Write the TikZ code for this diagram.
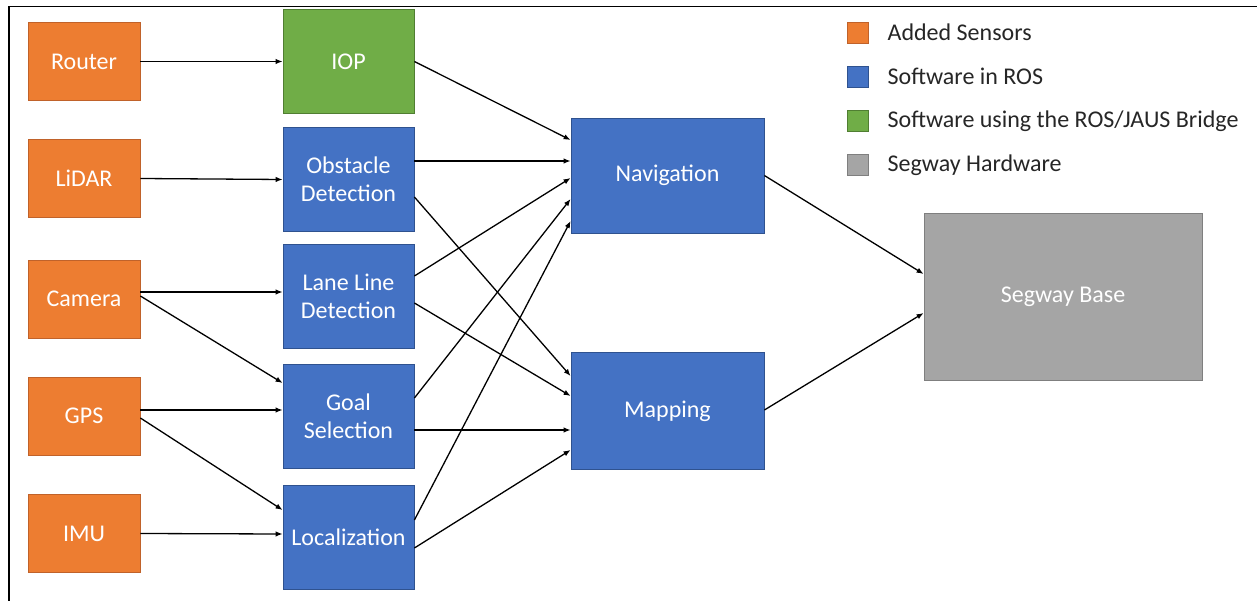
\documentclass[tikz,border=0pt]{standalone}
\usepackage{fontspec}
\setmainfont{Carlito}
\usetikzlibrary{positioning,arrows.meta}

\definecolor{sensorfill}{HTML}{ED7D31}
\definecolor{sensordraw}{HTML}{C0622A}
\definecolor{rosfill}{HTML}{4472C4}
\definecolor{rosdraw}{HTML}{2F528F}
\definecolor{bridgefill}{HTML}{70AD47}
\definecolor{bridgedraw}{HTML}{507E32}
\definecolor{hwfill}{HTML}{A5A5A5}
\definecolor{hwdraw}{HTML}{7F7F7F}

\begin{document}
\begin{tikzpicture}[x=1pt,y=1pt,
	on grid,
	every node/.style={font=\fontsize{24}{28}\selectfont},
	box/.style={line width=0.8pt,text=white,align=center},
	sensor/.style={box,fill=sensorfill,draw=sensordraw,minimum width=112pt,minimum height=78pt},
	ros/.style={box,fill=rosfill,draw=rosdraw,minimum width=131pt,minimum height=104pt},
	bridge/.style={box,fill=bridgefill,draw=bridgedraw,minimum width=131pt,minimum height=104pt},
	hw/.style={box,fill=hwfill,draw=hwdraw,minimum width=278pt,minimum height=167pt},
	key/.style={line width=0.8pt,minimum size=21pt,inner sep=0pt},
	legtext/.style={inner sep=0pt,text=black!85},
	link/.style={line width=1.3pt,-{Latex[length=7pt,width=5.5pt]}},
	frame/.style={line width=1.6pt}]

\path[use as bounding box] (0,0) rectangle (1257,-601);

% frame
\draw[frame] (9,-601) -- (9,-6.5) -- (1257,-6.5);

% Sensors
\node[sensor] (router) at (84,-61.5) {Router};

\node[sensor,
	below=117pt of router] (lidar) {LiDAR};

\node[sensor,
	below=120.5pt of lidar] (camera) {Camera};

\node[sensor,
	below=117pt of camera] (gps) {GPS};

\node[sensor,
	below=117.5pt of gps] (imu) {IMU};

% Software
\node[bridge,
	right=264.5pt of router] (iop) {IOP};

\node[ros,
	below=118pt of iop] (obstacle) {Obstacle\\Detection};

\node[ros,
	below=116.5pt of obstacle] (lane) {Lane Line\\Detection};

\node[ros,
	below=120pt of lane] (goal) {Goal\\Selection};

\node[ros,
	below=121pt of goal] (local) {Localization};

\node[ros,
	minimum width=193pt, minimum height=115pt,
	above right=4pt and 319pt of obstacle] (nav) {Navigation};

\node[ros,
	minimum width=193pt, minimum height=117pt,
	below=235.5pt of nav] (mapping) {Mapping};

% Hardware
\node[hw,
	below right=121pt and 395.5pt of nav] (base) {Segway Base};

% Legend
\foreach \kind/\txt [count=\i] in {sensor/Added Sensors, ros/Software in ROS,
	bridge/{Software using the ROS/JAUS Bridge}, hw/Segway Hardware}{
	\node[key, fill=\kind fill, draw=\kind draw] (key\i) at (857.5,{-32.5-44.2*(\i-1)}) {};
	\node[legtext, on grid=false, right=19pt of key\i] (legend\i) {\txt};
}

% connections
\draw (router.east) edge[link] (iop.west)
	(lidar.east) edge[link] (obstacle.west)
	([yshift=7pt]camera.east) edge[link] ([yshift=4pt]lane.west)
	([yshift=3pt]camera.east) edge[link] ([yshift=33pt]goal.west)
	([yshift=6pt]gps.east) edge[link] ([yshift=6pt]goal.west)
	([yshift=-2pt]gps.east) edge[link] ([yshift=27pt]local.west)
	(imu.east) edge[link] ([yshift=3pt]local.west);

\draw (iop.east) edge[link] ([yshift=35.5pt]nav.west)
	([yshift=18.5pt]obstacle.east) edge[link] ([yshift=14.5pt]nav.west)
	([yshift=-17.5pt]obstacle.east) edge[link] ([yshift=35pt]mapping.west)
	([yshift=20pt]lane.east) edge[link] ([yshift=-2.5pt]nav.west)
	([yshift=-7pt]lane.east) edge[link] ([yshift=15pt]mapping.west)
	([yshift=18pt]goal.east) edge[link] ([yshift=-23.5pt]nav.west)
	([yshift=-14pt]goal.east) edge[link] ([yshift=-19pt]mapping.west)
	([yshift=17pt]local.east) edge[link] ([yshift=-45.5pt]nav.west)
	([yshift=-11pt]local.east) edge[link] ([yshift=-39pt]mapping.west);

\draw (nav.east) edge[link] ([yshift=22.5pt]base.west)
	([yshift=1pt]mapping.east) edge[link] ([yshift=-16.5pt]base.west);

\end{tikzpicture}
\end{document}
